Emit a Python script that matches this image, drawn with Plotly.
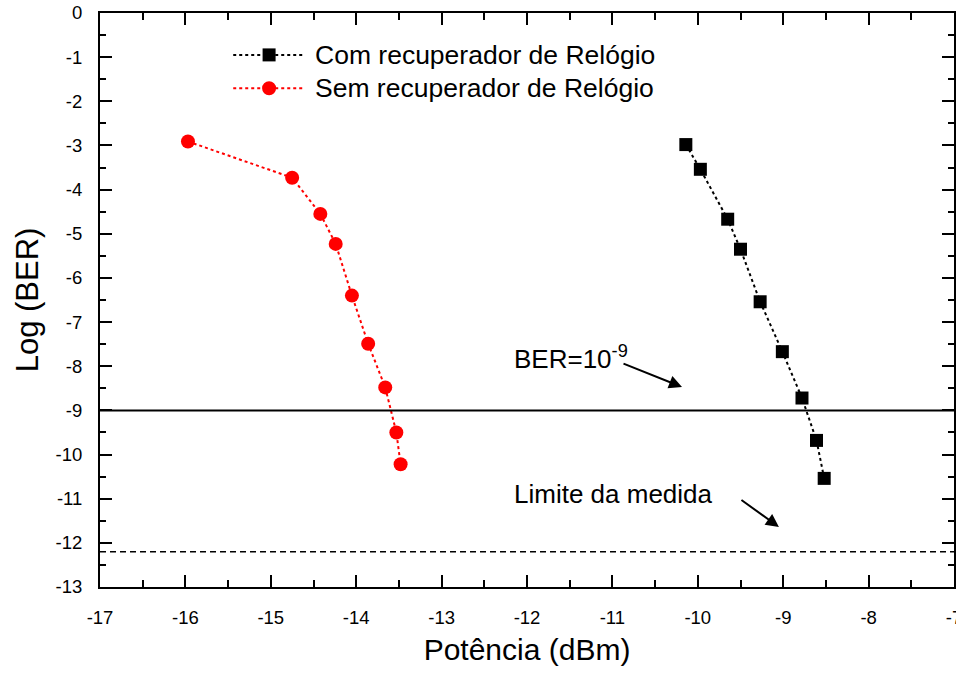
import plotly.graph_objects as go

# Measured BER curves: received power (dBm) vs log10(BER)
power_with_cdr = [-10.14, -9.97, -9.65, -9.50, -9.27, -9.01, -8.78, -8.61, -8.52]
logber_with_cdr = [-2.98, -3.54, -4.67, -5.35, -6.54, -7.67, -8.72, -9.68, -10.54]

power_without_cdr = [-15.97, -14.75, -14.42, -14.24, -14.05, -13.86, -13.66, -13.53, -13.48]
logber_without_cdr = [-2.91, -3.73, -4.55, -5.23, -6.40, -7.49, -8.48, -9.50, -10.22]

series_names = ["Com recuperador de Relógio", "Sem recuperador de Relógio"]

ber_reference = -9        # BER = 1e-9
measurement_limit = -12.2  # lower limit of the BER tester

x_ticks = list(range(-17, -6))
y_ticks = list(range(0, -14, -1))

FONT = "Arial, Liberation Sans, Helvetica, sans-serif"

fig = go.Figure()

fig.add_trace(go.Scatter(
    x=power_with_cdr, y=logber_with_cdr, mode="lines+markers",
    name=series_names[0],
    line=dict(color="black", width=2, dash="dot"),
    marker=dict(symbol="square", size=13, color="black"),
    showlegend=False,
))
fig.add_trace(go.Scatter(
    x=power_without_cdr, y=logber_without_cdr, mode="lines+markers",
    name=series_names[1],
    line=dict(color="red", width=2, dash="dot"),
    marker=dict(symbol="circle", size=14, color="red"),
    showlegend=False,
))

# reference lines
fig.add_hline(y=ber_reference, line=dict(color="black", width=2))
fig.add_hline(y=measurement_limit, line=dict(color="black", width=1.6, dash="6px,4px"))

# hand-built legend (long sample line with the marker in the middle)
legend_rows = [
    (0.927, "black", "square", series_names[0]),
    (0.869, "red", "circle", series_names[1]),
]
x0, x1, xm, xt = 0.156, 0.240, 0.198, 0.249
for ly, col, sym, label in legend_rows:
    fig.add_shape(type="line", xref="paper", yref="paper", x0=x0, x1=x1, y0=ly, y1=ly,
                  line=dict(color=col, width=2, dash="dot"))
    half = 6.5 if sym == "square" else 7
    fig.add_shape(type="rect" if sym == "square" else "circle",
                  xref="paper", yref="paper", xsizemode="pixel", ysizemode="pixel",
                  xanchor=xm, yanchor=ly, x0=-half, x1=half, y0=-half, y1=half,
                  fillcolor=col, line=dict(color=col, width=0))
    fig.add_annotation(xref="paper", yref="paper", x=xt, y=ly, text=label,
                       showarrow=False, xanchor="left", yanchor="middle",
                       font=dict(family=FONT, size=26.5, color="black"))

# text labels with arrows
fig.add_annotation(x=-12.18, y=-7.80, text="BER=10<sup>-9</sup>", showarrow=False,
                   xanchor="left", yanchor="middle",
                   font=dict(family=FONT, size=26, color="black"))
fig.add_annotation(x=-10.185, y=-8.47, ax=-60, ay=-24, text="", showarrow=True,
                   arrowhead=2, arrowsize=1.3, arrowwidth=2, arrowcolor="black")

fig.add_annotation(x=-12.18, y=-10.90, text="Limite da medida", showarrow=False,
                   xanchor="left", yanchor="middle",
                   font=dict(family=FONT, size=26, color="black"))
fig.add_annotation(x=-9.05, y=-11.64, ax=-39, ay=-28, text="", showarrow=True,
                   arrowhead=2, arrowsize=1.3, arrowwidth=2, arrowcolor="black")

axis_common = dict(
    showline=True, linecolor="black", linewidth=2, mirror="allticks",
    ticks="inside", ticklen=12, tickwidth=2, tickcolor="black",
    showgrid=False, zeroline=False, ticklabeloverflow="allow", automargin=False,
    tickfont=dict(family=FONT, size=18.5, color="black"),
)

fig.update_xaxes(
    range=[-17, -7], tickvals=x_ticks, ticktext=[str(v) for v in x_ticks],
    minor=dict(dtick=0.5, ticks="inside", ticklen=7, tickwidth=2, tickcolor="black", showgrid=False),
    title=dict(text="Potência (dBm)", font=dict(family=FONT, size=30, color="black"), standoff=12),
    ticklabelstandoff=13,
    **axis_common,
)
fig.update_yaxes(
    range=[-13, 0], tickvals=y_ticks, ticktext=[str(v) for v in y_ticks],
    minor=dict(dtick=0.5, ticks="inside", ticklen=6, tickwidth=2, tickcolor="black", showgrid=False),
    title=dict(text="Log (BER)", font=dict(family=FONT, size=31, color="black"), standoff=8),
    ticklabelstandoff=12,
    **axis_common,
)

fig.update_layout(
    width=956, height=673,
    margin=dict(l=100, r=2, t=13, b=86),
    paper_bgcolor="white", plot_bgcolor="white",
    font=dict(family=FONT, color="black"),
    showlegend=False,
)

fig.write_html("out.html")
